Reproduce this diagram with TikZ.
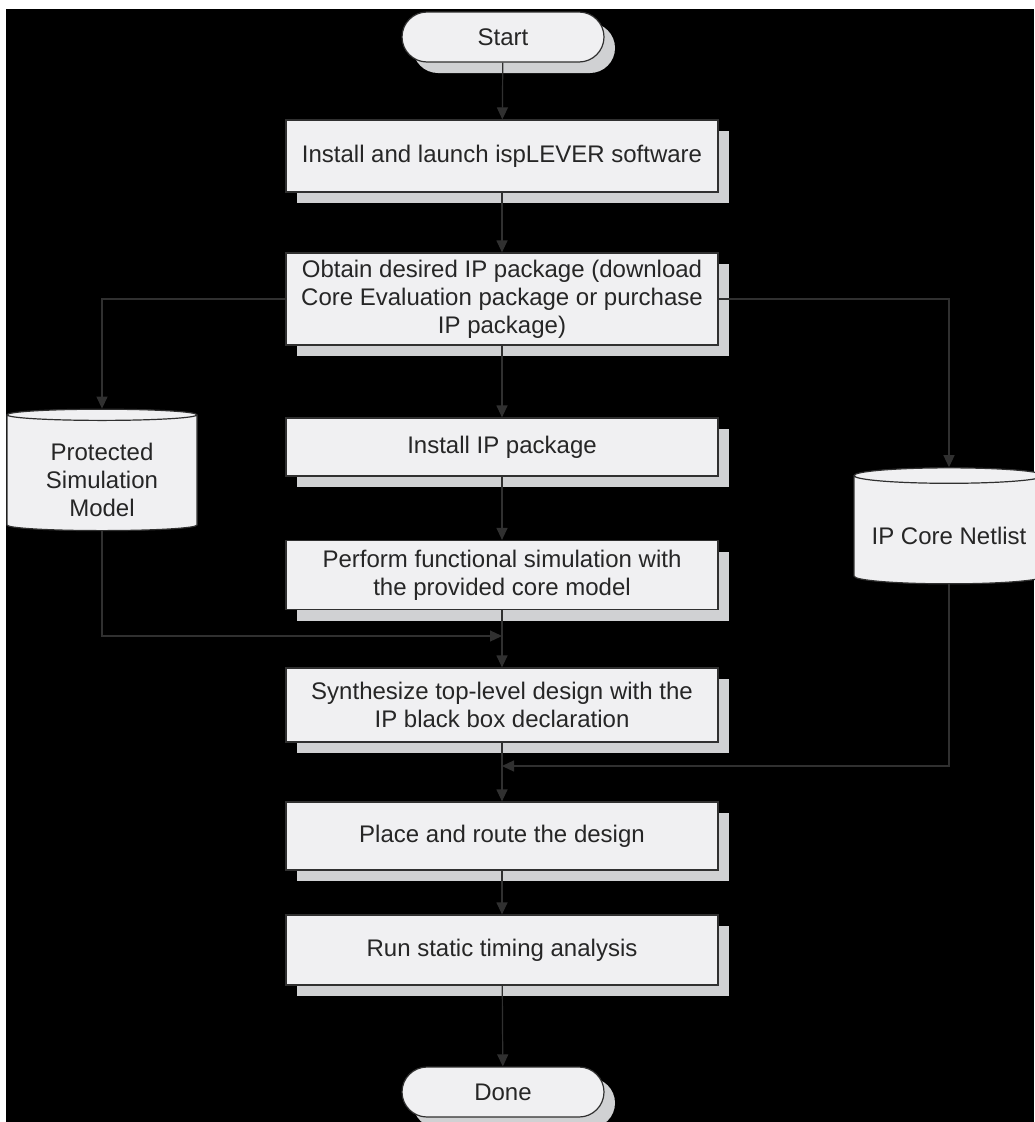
\documentclass[tikz,border=0pt]{standalone}
\usepackage{fontspec}
\setmainfont{Liberation Sans}
\usetikzlibrary{arrows.meta,shapes.geometric,shadows}
\definecolor{boxfill}{HTML}{F0F0F2}
\definecolor{shadefill}{HTML}{D0D1D3}
\definecolor{linegray}{HTML}{303030}
\begin{document}
\begin{tikzpicture}[x=1pt,y=-1pt,>={Triangle[length=12pt,width=11pt]},
		every node/.style={font=\fontsize{24}{28}\selectfont,text=black!85},
		stepbox/.style={draw=linegray,line width=1.2pt,fill=boxfill,minimum width=432pt,align=center,
			drop shadow={shadow xshift=11pt,shadow yshift=-11pt,fill=shadefill,opacity=1}},
		term/.style={stepbox,rounded corners=25pt,minimum width=202pt,minimum height=50pt},
		store/.style={cylinder,shape border rotate=90,aspect=0.1,draw=linegray,line width=1.2pt,
			fill=boxfill,inner sep=0pt,minimum width=190pt,minimum height=116pt},
		link/.style={draw=linegray,line width=1.2pt,->}]
		\fill[white] (0,0) rectangle (1034,1122);
		\fill[black] (6,9) rectangle (1034,1122);
		\useasboundingbox (0,0) rectangle (1034,1122);
		% main column
		\node[term] (start) at (503,37) {Start};
		\node[stepbox,minimum height=72pt] (inst) at (502,156) {Install and launch ispLEVER software};
		\node[stepbox,minimum height=92pt] (obtain) at (502,299) {Obtain desired IP package (download\\Core Evaluation package or purchase\\IP package)};
		\node[stepbox,minimum height=58pt] (instip) at (502,447) {Install IP package};
		\node[stepbox,minimum height=69pt] (perform) at (502,575) {Perform functional simulation with\\the provided core model};
		\node[stepbox,minimum height=74pt] (synth) at (502,705) {Synthesize top-level design with the\\IP black box declaration};
		\node[stepbox,minimum height=68pt] (place) at (502,836) {Place and route the design};
		\node[stepbox,minimum height=70pt] (run) at (502,950) {Run static timing analysis};
		\node[term] (done) at (503,1092) {Done};
		% side stores (text sits a little low)
		\node[store] (psm) at (102,473) {\raisebox{0pt}[\dimexpr\height+20pt\relax][\depth]{\begin{tabular}{@{}c@{}}Protected\\Simulation\\Model\end{tabular}}};
		\node[store] (netlist) at (949,530) {\raisebox{0pt}[\dimexpr\height+12pt\relax][\depth]{IP Core Netlist}};
		\coordinate (m1) at (502,636);
		\coordinate (m2) at (502,766);
		% connectors
		\draw[link] (start) -- (inst);
		\draw[link] (inst) -- (obtain);
		\draw[link] (obtain) -- (instip);
		\draw[link] (instip) -- (perform);
		\draw[link] (perform) -- (synth);
		\draw[link] (synth) -- (place);
		\draw[link] (place) -- (run);
		\draw[link] (run) -- (done);
		\draw[link] (obtain.west) -| (psm.north);
		\draw[link] (obtain.east) -| (netlist.north);
		\draw[link] (psm.south) |- (m1);
		\draw[link] (netlist.south) |- (m2);
	\end{tikzpicture}
\end{document}
